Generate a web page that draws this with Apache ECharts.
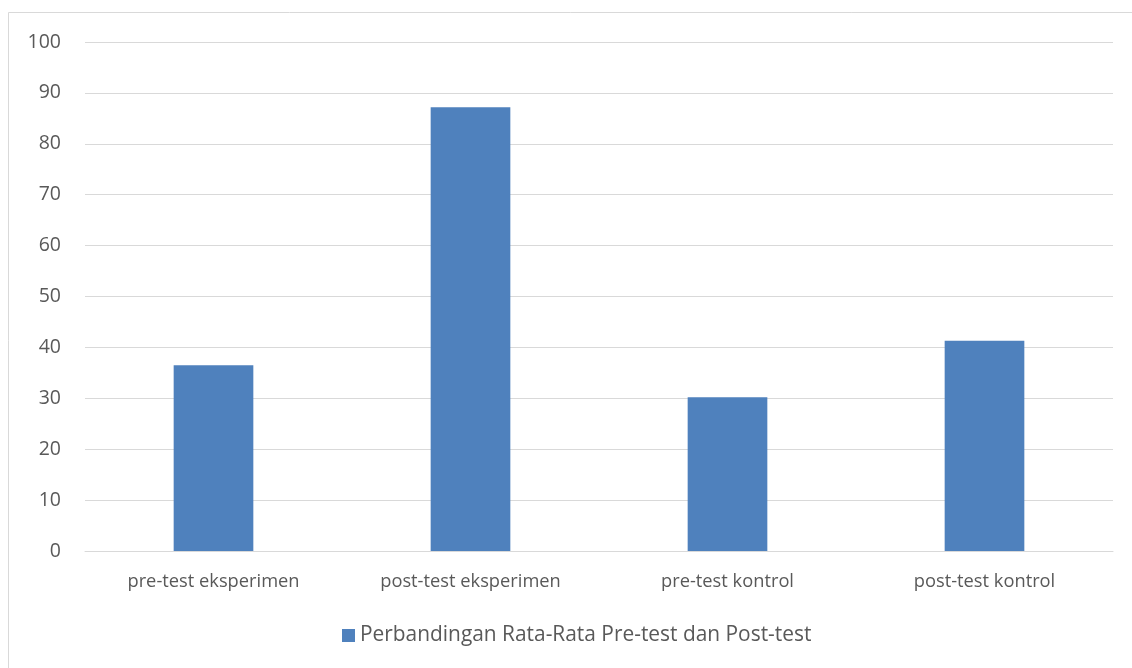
<!DOCTYPE html>
<html>
<head>
<meta charset="utf-8">
<script src="https://cdn.jsdelivr.net/npm/echarts@6/dist/echarts.min.js"></script>
<style>
  html, body { margin: 0; padding: 0; background: #fff; }
  #chart { width: 1132px; height: 668px; }
</style>
</head>
<body>
<div id="chart"></div>
<script>
var categories = ['pre-test eksperimen', 'post-test eksperimen', 'pre-test kontrol', 'post-test kontrol'];
var values = [36.5, 87.2, 30.2, 41.3];
var seriesName = 'Perbandingan Rata-Rata Pre-test dan Post-test';

var chart = echarts.init(document.getElementById('chart'));

var option = {
  backgroundColor: '#ffffff',
  textStyle: { fontFamily: 'Open Sans' },
  graphic: [{
    type: 'rect',
    shape: { x: 8.5, y: 12.5, width: 1140, height: 700 },
    style: { fill: 'none', stroke: '#d9d9d9', lineWidth: 1 }
  }],
  grid: { left: 85, right: 19, top: 42, bottom: 117 },
  legend: {
    bottom: 17,
    left: 337,
    itemWidth: 13,
    itemHeight: 13,
    icon: 'rect',
    itemGap: 10,
    textStyle: { fontSize: 20.9, color: '#595959', fontFamily: 'Open Sans' },
    data: [seriesName]
  },
  xAxis: {
    type: 'category',
    data: categories,
    axisLine: { lineStyle: { color: '#d9d9d9' } },
    axisTick: { show: false },
    axisLabel: { fontSize: 18.3, color: '#595959', margin: 22 }
  },
  yAxis: {
    type: 'value',
    min: 0,
    max: 100,
    interval: 10,
    axisLine: { show: false },
    axisTick: { show: false },
    splitLine: { lineStyle: { color: '#d9d9d9' } },
    axisLabel: { fontSize: 19.5, color: '#595959', margin: 24 }
  },
  series: [{
    name: seriesName,
    type: 'bar',
    data: values,
    barWidth: '31%',
    itemStyle: { color: '#4f81bd' }
  }]
};

chart.setOption(option);
</script>
</body>
</html>
